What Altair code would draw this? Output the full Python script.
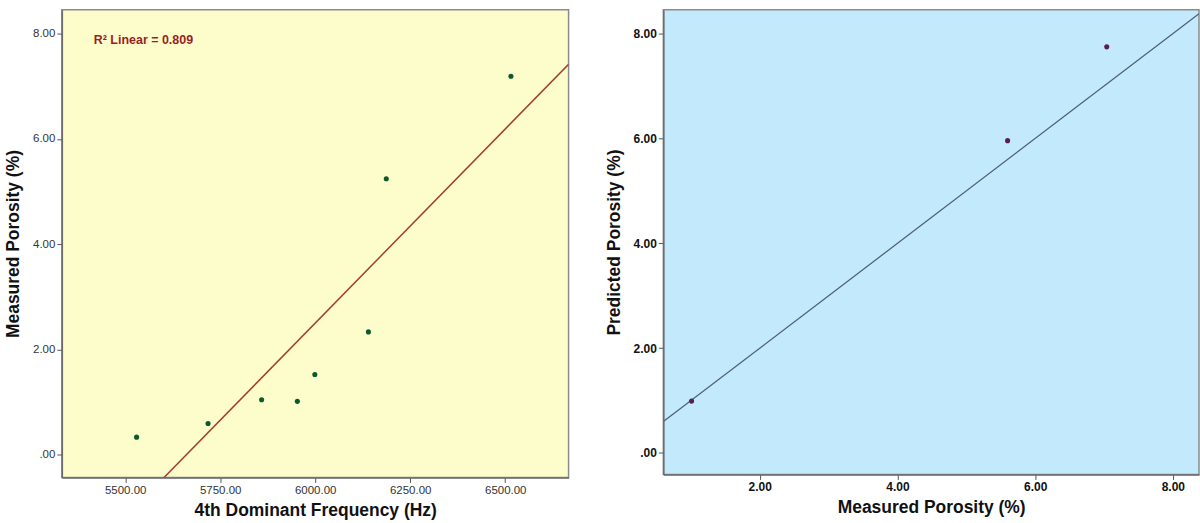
import altair as alt
import pandas as pd

# ---- data ----
frequency_hz = [5530, 5718, 5859, 5953, 5999, 6140, 6187, 6515]
measured_porosity = [0.33, 0.59, 1.04, 1.01, 1.52, 2.33, 5.24, 7.19]

val_measured = [1.01, 5.60, 7.04]
val_predicted = [0.99, 5.96, 7.75]

identity_ends = [0.60, 8.38]  # y = x reference line ends

left_x_ticks = [5500, 5750, 6000, 6250, 6500]
porosity_ticks = [0, 2, 4, 6, 8]
right_x_ticks = [2, 4, 6, 8]
r2_label = "R\u00b2 Linear = 0.809"

left_df = pd.DataFrame({"freq": frequency_hz, "porosity": measured_porosity})
right_df = pd.DataFrame({"measured": val_measured, "predicted": val_predicted})
ident_df = pd.DataFrame({"measured": identity_ends, "predicted": identity_ends})

FONT = "Liberation Sans, Arial, sans-serif"
fmt = "datum.value == 0 ? '.00' : format(datum.value, '.2f')"

def axis(values, bold, title_pad):
    return alt.Axis(
        values=values,
        labelExpr=fmt,
        labelFont=FONT,
        labelFontSize=12 if bold else 11.5,
        labelFontWeight="bold" if bold else "normal",
        labelColor="#111" if bold else "#333",
        labelPadding=2,
        tickSize=5,
        tickColor="#555",
        domainColor="#6a6a6a",
        domainWidth=1.5,
        grid=False,
        titleFont=FONT,
        titleFontSize=17.5,
        titleFontWeight="bold",
        titleColor="#111",
        titlePadding=title_pad,
    )

# ---- left panel ----
lx = alt.X("freq:Q", title="4th Dominant Frequency (Hz)",
           scale=alt.Scale(domain=[5333.33, 6666.67], nice=False, zero=False),
           axis=axis(left_x_ticks, False, 6))
ly = alt.Y("porosity:Q", title="Measured Porosity (%)",
           scale=alt.Scale(domain=[-0.436, 8.455], nice=False, zero=False),
           axis=axis(porosity_ticks, False, 10))

left_pts = alt.Chart(left_df).mark_circle(size=26, color="#0b5a2c", opacity=1).encode(x=lx, y=ly)
left_fit = alt.Chart(left_df).transform_regression(
    "freq", "porosity", extent=[5333.33, 6666.67]
).mark_line(color="#a23e2c", strokeWidth=1.5, clip=True).encode(x=lx, y=ly)
left_txt = alt.Chart(pd.DataFrame({"t": [r2_label]})).mark_text(
    align="left", baseline="middle", font=FONT, fontSize=12.5,
    fontWeight="bold", color="#9a1f1f"
).encode(x=alt.value(32), y=alt.value(30), text="t:N")

left = alt.layer(left_fit, left_pts, left_txt).properties(width=508, height=469)

# ---- right panel ----
rx = alt.X("measured:Q", title="Measured Porosity (%)",
           scale=alt.Scale(domain=[0.60, 8.38], nice=False, zero=False),
           axis=axis(right_x_ticks, True, 6))
ry = alt.Y("predicted:Q", title="Predicted Porosity (%)",
           scale=alt.Scale(domain=[-0.41, 8.46], nice=False, zero=False),
           axis=axis(porosity_ticks, True, 10))

right_line = alt.Chart(ident_df).mark_line(color="#4d5e6c", strokeWidth=1.2, clip=True).encode(x=rx, y=ry)
right_pts = alt.Chart(right_df).mark_circle(size=26, color="#5a1d52", opacity=1).encode(x=rx, y=ry)

right = alt.layer(right_line, right_pts).properties(width=537, height=466)

chart = alt.hconcat(
    left.properties(view=alt.ViewBackground(fill="#fdfdcc", stroke="#8c8c8c", strokeWidth=1.5)),
    right.properties(view=alt.ViewBackground(fill="#c2e9fc", stroke="#8c8c8c", strokeWidth=1.5)),
    spacing=34,
).properties(
    padding={"left": 3, "top": 8, "right": 0, "bottom": 0},
    background="white",
)

chart.save("out.html", embed_options={"renderer": "svg", "actions": False})
